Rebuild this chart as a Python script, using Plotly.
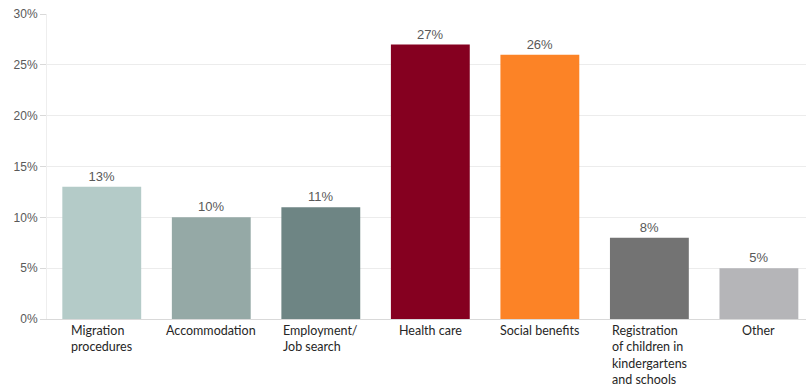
import plotly.graph_objects as go

categories = ["Migration<br>procedures", "Accommodation", "Employment/<br>Job search",
              "Health care", "Social benefits",
              "Registration<br>of children in<br>kindergartens<br>and schools", "Other"]
values = [13, 10, 11, 27, 26, 8, 5]
colors = ["#b4cbc8", "#95a9a6", "#6e8584", "#850020", "#fc8326", "#737373", "#b5b5b8"]
y_ticks = [0, 5, 10, 15, 20, 25, 30]
y_tick_labels = [f"{v}%" for v in y_ticks]

x_idx = list(range(len(categories)))

fig = go.Figure()
fig.add_trace(go.Bar(
    x=x_idx, y=values, marker=dict(color=colors, line=dict(width=0)),
    width=0.72,
    text=[f"{v}%" for v in values], textposition="outside",
    textfont=dict(family="Arial", size=13, color="#595959"),
    cliponaxis=False,
))

for i, c in enumerate(categories):
    fig.add_annotation(x=i, y=0, xref="x", yref="paper", text=c, showarrow=False,
                       xanchor="center", yanchor="top", align="left", yshift=-2,
                       font=dict(family="Lato", size=12.5, color="#262626"))

fig.update_layout(
    width=806, height=390, margin=dict(l=47, r=0, t=14, b=71),
    plot_bgcolor="white", paper_bgcolor="white", showlegend=False,
    bargap=0.28,
    xaxis=dict(range=[-0.5, 6.43], showticklabels=False, showgrid=False, zeroline=False,
               showline=True, linecolor="#d9d9d9", linewidth=1, fixedrange=True),
    yaxis=dict(range=[0, 30], tickvals=y_ticks, ticktext=y_tick_labels,
               showgrid=True, gridcolor="#ececec", gridwidth=1, zeroline=False,
               showline=True, linecolor="#eeeeee", ticks="outside", ticklen=6,
               tickcolor="#d9d9d9",
               tickfont=dict(family="Arial", size=12, color="#595959")),
)

fig.write_html("out.html")
